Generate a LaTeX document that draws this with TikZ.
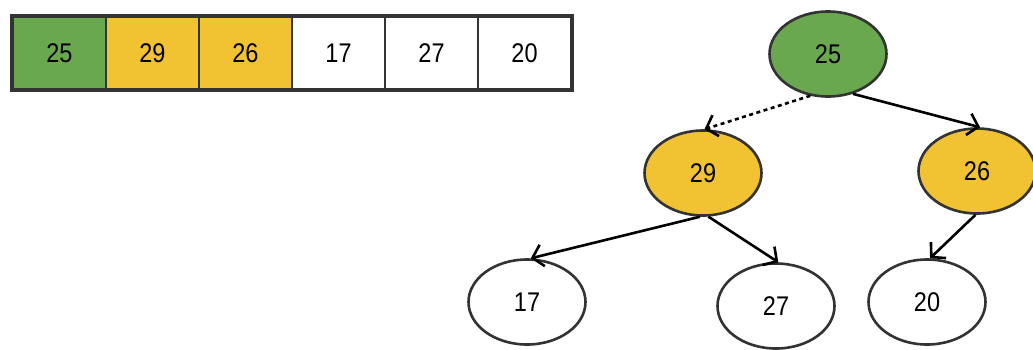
\documentclass[tikz,border=0pt]{standalone}
\usepackage{fontspec}
\setmainfont{Liberation Sans}
\newfontfamily\keyfont[FakeStretch=0.87]{Liberation Sans}
\usetikzlibrary{shapes.geometric,arrows.meta}
\definecolor{leafgreen}{HTML}{6AA84F}
\definecolor{heapyellow}{HTML}{F1C232}
\definecolor{edgegray}{HTML}{333333}
\begin{document}
\begin{tikzpicture}[x=1pt,y=-1pt,
  every node/.style={font=\keyfont\fontsize{27}{31}\selectfont},
  cell/.style={draw=edgegray, line width=2pt, minimum width=93pt, minimum height=72pt, inner sep=0pt, anchor=north west},
  heapnode/.style={ellipse, draw=edgegray, line width=2.6pt, minimum width=117pt, minimum height=85pt, inner sep=0pt, fill=white},
  link/.style={line width=2.6pt, -{Straight Barb[length=10pt,width=22pt,line width=2.6pt]}},
  probe/.style={link, dash pattern=on 4pt off 3.5pt}
]
\useasboundingbox (0,0) rectangle (1033,349);

% array view
\node[cell, fill=leafgreen]  (c1) at (12,16)  {25};
\node[cell, fill=heapyellow] (c2) at (105,16) {29};
\node[cell, fill=heapyellow] (c3) at (198,16) {26};
\node[cell]                  (c4) at (291,16) {17};
\node[cell]                  (c5) at (384,16) {27};
\node[cell]                  (c6) at (477,16) {20};
\draw[edgegray, line width=3.5pt] (c1.north west) rectangle (c6.south east);

% tree view
\node[heapnode, fill=leafgreen]  (t25) at (828,54)  {25};
\node[heapnode, fill=heapyellow] (t29) at (703,173) {29};
\node[heapnode, fill=heapyellow] (t26) at (977,171) {26};
\node[heapnode] (t17) at (527,302) {17};
\node[heapnode] (t27) at (776,306) {27};
\node[heapnode] (t20) at (927,302) {20};

\draw[probe] (t25.247) -- (t29.88);
\draw[link]  (t25.302) -- (t26.86);
\draw[link]  (t29.266) -- (t17.85);
\draw[link]  (t29.277) -- (t27.87);
\draw[link]  (t26.268) -- (t20.86);
\end{tikzpicture}
\end{document}
